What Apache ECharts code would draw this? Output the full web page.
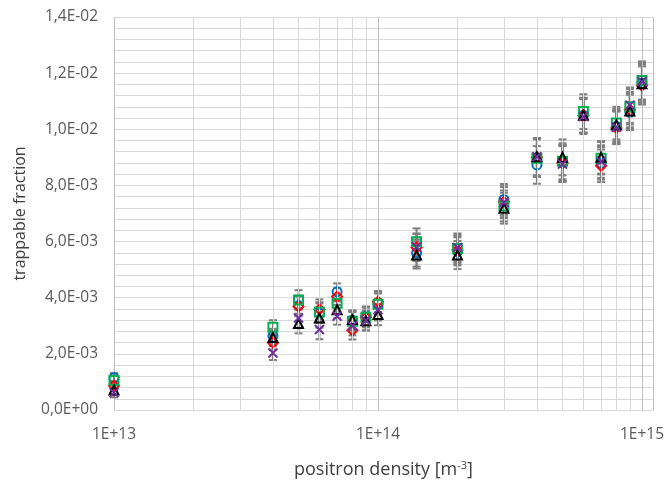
<!DOCTYPE html>
<html>
<head>
<meta charset="utf-8">
<script src="https://cdn.jsdelivr.net/npm/echarts@6/dist/echarts.min.js"></script>
<style>html,body{margin:0;padding:0;background:#fff}#c{width:667px;height:484px}</style>
</head>
<body>
<div id="c"></div>
<script>
const density = [1e13, 4e13, 5e13, 6e13, 7e13, 8e13, 9e13, 1e14, 1.4e14, 2e14, 3e14, 4e14, 5e14, 6e14, 7e14, 8e14, 9e14, 1e15];
const blueCircle = [1.15e-3, 2.64e-3, 3.72e-3, 3.45e-3, 4.21e-3, 3.20e-3, 3.34e-3, 3.80e-3, 5.59e-3, 5.65e-3, 7.50e-3, 8.73e-3, 8.80e-3, 1.050e-2, 8.79e-3, 1.010e-2, 1.060e-2, 1.165e-2];
const redDiamond = [0.86e-3, 2.40e-3, 3.69e-3, 3.59e-3, 4.04e-3, 2.84e-3, 3.30e-3, 3.86e-3, 5.79e-3, 5.70e-3, 7.42e-3, 9.00e-3, 8.80e-3, 1.049e-2, 8.70e-3, 1.005e-2, 1.070e-2, 1.156e-2];
const greenSquare = [1.05e-3, 2.95e-3, 3.92e-3, 3.49e-3, 3.80e-3, 3.16e-3, 3.30e-3, 3.77e-3, 5.99e-3, 5.75e-3, 7.27e-3, 8.97e-3, 8.86e-3, 1.063e-2, 8.97e-3, 1.022e-2, 1.080e-2, 1.174e-2];
const blackTriangle = [0.71e-3, 2.58e-3, 3.08e-3, 3.28e-3, 3.57e-3, 3.22e-3, 3.18e-3, 3.40e-3, 5.52e-3, 5.52e-3, 7.19e-3, 9.02e-3, 9.00e-3, 1.050e-2, 9.00e-3, 1.015e-2, 1.065e-2, 1.162e-2];
const purpleX = [0.62e-3, 2.03e-3, 3.28e-3, 2.87e-3, 3.34e-3, 2.99e-3, 3.19e-3, 3.57e-3, 5.81e-3, 5.79e-3, 7.39e-3, 9.02e-3, 8.76e-3, 1.045e-2, 8.85e-3, 1.007e-2, 1.086e-2, 1.170e-2];
const errorBar = [0.17e-3, 0.25e-3, 0.35e-3, 0.35e-3, 0.30e-3, 0.33e-3, 0.35e-3, 0.38e-3, 0.48e-3, 0.50e-3, 0.55e-3, 0.67e-3, 0.64e-3, 0.62e-3, 0.58e-3, 0.58e-3, 0.63e-3, 0.68e-3];
const minorGridX = [2e13, 3e13, 4e13, 5e13, 6e13, 7e13, 8e13, 9e13, 2e14, 3e14, 4e14, 5e14, 6e14, 7e14, 8e14, 9e14];
const majorGridX = [1e14, 1e15];
const xTickLabels = {13: '1E+13', 14: '1E+14', 15: '1E+15'};

const FONT = '"Open Sans", Lato, sans-serif';
const seriesDefs = [
  {name: 'blue', values: blueCircle, color: '#0070C0', symbol: 'circle', size: 9},
  {name: 'red', values: redDiamond, color: '#FF0000', symbol: 'diamond', size: 10},
  {name: 'green', values: greenSquare, color: '#00B050', symbol: 'rect', size: 9},
  {name: 'black', values: blackTriangle, color: '#000000', symbol: 'triangle', size: 9},
  {name: 'purple', values: purpleX, color: '#7030A0', symbol: 'path://M0,0L10,10M10,0L0,10', size: 9}
];

const errData = [];
seriesDefs.forEach(s => s.values.forEach((v, i) => errData.push([density[i], v, errorBar[i]])));

function yFmt(v) {
  if (Math.abs(v) < 1e-12) return '0,0E+00';
  const s = v.toExponential(1);
  const [m, e] = s.split('e');
  const ei = parseInt(e, 10);
  const es = (ei < 0 ? '-' : '+') + String(Math.abs(ei)).padStart(2, '0');
  return m.replace('.', ',') + 'E' + es;
}

const series = [];
series.push({
  type: 'scatter', data: [], silent: true, z: 1,
  markLine: {
    silent: true, symbol: 'none', label: {show: false}, animation: false,
    data: minorGridX.map(x => ({xAxis: x, lineStyle: {color: '#d9d9d9', width: 1, type: 'solid'}}))
      .concat(majorGridX.map(x => ({xAxis: x, lineStyle: {color: '#bfbfbf', width: 1, type: 'solid'}})))
  }
});
series.push({
  type: 'custom', z: 2, silent: true,
  data: errData,
  renderItem: function (params, api) {
    const x = api.value(0), y = api.value(1), e = api.value(2);
    const top = api.coord([x, y + e]);
    const bot = api.coord([x, y - e]);
    const hw = 4;
    const st = {stroke: '#7f7f7f', lineWidth: 2};
    return {
      type: 'group',
      children: [
        {type: 'line', shape: {x1: top[0], y1: top[1], x2: bot[0], y2: bot[1]}, style: st},
        {type: 'line', shape: {x1: top[0] - hw, y1: top[1], x2: top[0] + hw, y2: top[1]}, style: st},
        {type: 'line', shape: {x1: bot[0] - hw, y1: bot[1], x2: bot[0] + hw, y2: bot[1]}, style: st}
      ]
    };
  }
});
seriesDefs.forEach((s, k) => {
  series.push({
    name: s.name, type: 'scatter', z: 3 + k,
    symbol: s.symbol, symbolSize: s.size,
    data: s.values.map((v, i) => [density[i], v]),
    itemStyle: s.name === 'purple'
      ? {color: s.color, borderColor: s.color, borderWidth: 2, opacity: 1}
      : {color: 'rgba(255,255,255,0)', borderColor: s.color, borderWidth: 2, opacity: 1},
    emphasis: {disabled: true}
  });
});

const chart = echarts.init(document.getElementById('c'), null, {renderer: 'canvas'});
chart.setOption({
  animation: false,
  backgroundColor: '#ffffff',
  grid: {left: 114, right: 14, top: 17, bottom: 67, containLabel: false},
  xAxis: {
    type: 'log', logBase: 10, min: 1e13, max: 1.1e15,
    name: '{a|positron density [m}{s|-3}{a|]}',
    nameLocation: 'middle', nameGap: 50,
    nameTextStyle: {
      rich: {
        a: {fontFamily: FONT, fontSize: 18, color: '#404040'},
        s: {fontFamily: FONT, fontSize: 11, color: '#404040', padding: [0, 0, 9, 0]}
      }
    },
    axisLine: {show: false},
    axisTick: {show: false},
    axisLabel: {
      fontFamily: FONT, fontSize: 15.5, color: '#595959', margin: 17,
      formatter: function (v) {
        const ex = Math.round(Math.log10(v));
        if (Math.abs(Math.log10(v) - ex) > 1e-6) return '';
        return xTickLabels[ex] || '';
      }
    },
    splitLine: {show: true, lineStyle: {color: '#bfbfbf', width: 1}}
  },
  yAxis: {
    type: 'value', min: 0, max: 0.014, interval: 0.002,
    name: 'trappable fraction', nameLocation: 'middle', nameGap: 86, nameRotate: 90,
    nameTextStyle: {fontFamily: FONT, fontSize: 16, color: '#404040'},
    axisLine: {show: false},
    axisTick: {show: false},
    axisLabel: {fontFamily: FONT, fontSize: 15.5, color: '#595959', margin: 16, formatter: yFmt},
    splitLine: {show: true, lineStyle: {color: '#d9d9d9', width: 1}},
    minorTick: {show: false, splitNumber: 5},
    minorSplitLine: {show: true, lineStyle: {color: '#d9d9d9', width: 1}}
  },
  series: series
});
</script>
</body>
</html>
